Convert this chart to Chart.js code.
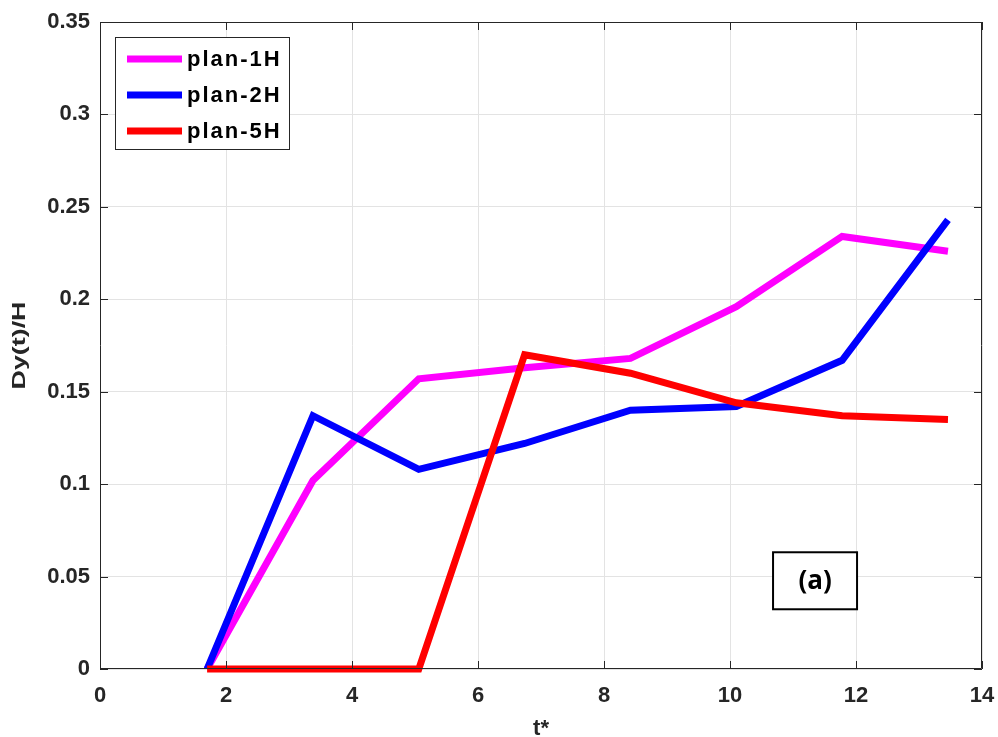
<!DOCTYPE html>
<html lang="en">
<head>
<meta charset="UTF-8">
<title>Dy(t)/H vs t*</title>
<script src="https://cdn.jsdelivr.net/npm/chart.js"></script>
<style>
  html, body { margin: 0; padding: 0; background: #ffffff; }
  #wrap { width: 998px; height: 737px; }
</style>
</head>
<body>
<div id="wrap"><canvas id="chart" width="998" height="737"></canvas></div>
<script>
// data
const tStar = [1.70, 3.38, 5.06, 6.74, 8.42, 10.10, 11.78, 13.46];
const plan1H = [0, 0.102, 0.157, 0.163, 0.168, 0.196, 0.234, 0.226];
const plan2H = [0, 0.137, 0.108, 0.122, 0.140, 0.142, 0.167, 0.243];
const plan5H = [0, 0, 0, 0.170, 0.160, 0.144, 0.137, 0.135];
const xTicks = [0, 2, 4, 6, 8, 10, 12, 14];
const yTicks = [0, 0.05, 0.1, 0.15, 0.2, 0.25, 0.3, 0.35];
const xTitle = 't*';
const yTitle = 'Dy(t)/H';
const panelLabel = '(a)';

const axisCol = '#262626';
const gridCol = '#e3e3e3';
const sans = '"Liberation Sans", Arial, sans-serif';

function pts(ys) { return ys.map((y, i) => ({ x: tStar[i], y: y })); }

// box, inward ticks, axis titles, legend and panel label
const decor = {
  id: 'decor',
  afterDatasetsDraw(chart) {
    const ctx = chart.ctx;
    const a = chart.chartArea;
    const xs = chart.scales.x, ys = chart.scales.y;
    ctx.save();
    ctx.strokeStyle = axisCol;
    ctx.lineWidth = 1;
    ctx.beginPath();
    ctx.rect(a.left + 0.5, a.top + 0.5, a.right - a.left - 1, a.bottom - a.top - 1);
    ctx.stroke();
    ctx.beginPath();
    xTicks.forEach(v => {
      const p = Math.round(xs.getPixelForValue(v)) + 0.5;
      ctx.moveTo(p, a.bottom); ctx.lineTo(p, a.bottom - 8);
      ctx.moveTo(p, a.top); ctx.lineTo(p, a.top + 8);
    });
    yTicks.forEach(v => {
      const p = Math.round(ys.getPixelForValue(v)) + 0.5;
      ctx.moveTo(a.left, p); ctx.lineTo(a.left + 8, p);
      ctx.moveTo(a.right, p); ctx.lineTo(a.right - 8, p);
    });
    ctx.stroke();

    // axis titles
    ctx.fillStyle = axisCol;
    ctx.textAlign = 'center';
    ctx.textBaseline = 'alphabetic';
    ctx.font = 'bold 22px ' + sans;
    ctx.fillText(xTitle, (a.left + a.right) / 2, 735);
    ctx.save();
    ctx.translate(25, (a.top + a.bottom) / 2);
    ctx.rotate(-Math.PI / 2);
    ctx.font = 'bold 18px ' + sans;
    const w = ctx.measureText(yTitle).width;
    ctx.scale(88 / w, 1);
    ctx.fillText(yTitle, 0, 0);
    ctx.restore();

    // legend
    const lx = 115, ly = 37, lw = 174, lh = 112;
    ctx.fillStyle = '#ffffff';
    ctx.fillRect(lx, ly, lw, lh);
    ctx.strokeStyle = axisCol;
    ctx.lineWidth = 1;
    ctx.strokeRect(lx + 0.5, ly + 0.5, lw, lh);
    ctx.font = 'bold 22px ' + sans;
    ctx.textBaseline = 'middle';
    ctx.textAlign = 'left';
    ctx.letterSpacing = '2px';
    chart.data.datasets.forEach((ds, i) => {
      const yy = 59 + i * 36;
      ctx.strokeStyle = ds.borderColor;
      ctx.lineWidth = 7;
      ctx.beginPath();
      ctx.moveTo(127, yy); ctx.lineTo(182, yy);
      ctx.stroke();
      ctx.fillStyle = '#000000';
      ctx.fillText(ds.label, 187, yy + 1);
    });
    ctx.letterSpacing = '0px';

    // panel label (a)
    const cx = xs.getPixelForValue(11.35), cy = ys.getPixelForValue(0.048);
    ctx.fillStyle = '#ffffff';
    ctx.fillRect(cx - 42, cy - 28, 84, 57);
    ctx.strokeStyle = '#000000';
    ctx.lineWidth = 2;
    ctx.strokeRect(cx - 42, cy - 28, 84, 57);
    ctx.fillStyle = '#000000';
    ctx.font = 'bold 26px "Open Sans", "Noto Sans", sans-serif';
    ctx.textAlign = 'center';
    ctx.fillText(panelLabel, cx, cy + 1);
    ctx.restore();
  }
};

const tickFont = { family: sans, size: 22, weight: 'bold' };

new Chart(document.getElementById('chart'), {
  type: 'line',
  data: {
    datasets: [
      { label: 'plan-1H', data: pts(plan1H), borderColor: '#ff00ff', order: 2 },
      { label: 'plan-2H', data: pts(plan2H), borderColor: '#0000ff', order: 1 },
      { label: 'plan-5H', data: pts(plan5H), borderColor: '#ff0000', order: 0 }
    ]
  },
  options: {
    responsive: false,
    animation: false,
    layout: { padding: { left: 0, top: 22, right: 16, bottom: 0 } },
    elements: {
      line: { borderWidth: 7, tension: 0, borderJoinStyle: 'miter', fill: false },
      point: { radius: 0, hoverRadius: 0 }
    },
    datasets: { line: { clip: false } },
    plugins: { legend: { display: false }, tooltip: { enabled: false } },
    scales: {
      x: {
        type: 'linear', min: 0, max: 14,
        afterBuildTicks: s => { s.ticks = xTicks.map(v => ({ value: v })); },
        afterFit: s => { s.height = 68; s.paddingLeft = 0; s.paddingRight = 0; },
        grid: { color: gridCol, drawTicks: false },
        border: { display: false },
        ticks: { font: tickFont, color: axisCol, padding: 14, maxRotation: 0 }
      },
      y: {
        type: 'linear', min: 0, max: 0.35,
        afterBuildTicks: s => { s.ticks = yTicks.map(v => ({ value: v })); },
        afterFit: s => { s.width = 100; s.paddingTop = 0; s.paddingBottom = 0; },
        grid: { color: gridCol, drawTicks: false },
        border: { display: false },
        ticks: { font: tickFont, color: axisCol, padding: 10, callback: v => String(Number(v.toFixed(2))) }
      }
    }
  },
  plugins: [decor]
});
</script>
</body>
</html>
